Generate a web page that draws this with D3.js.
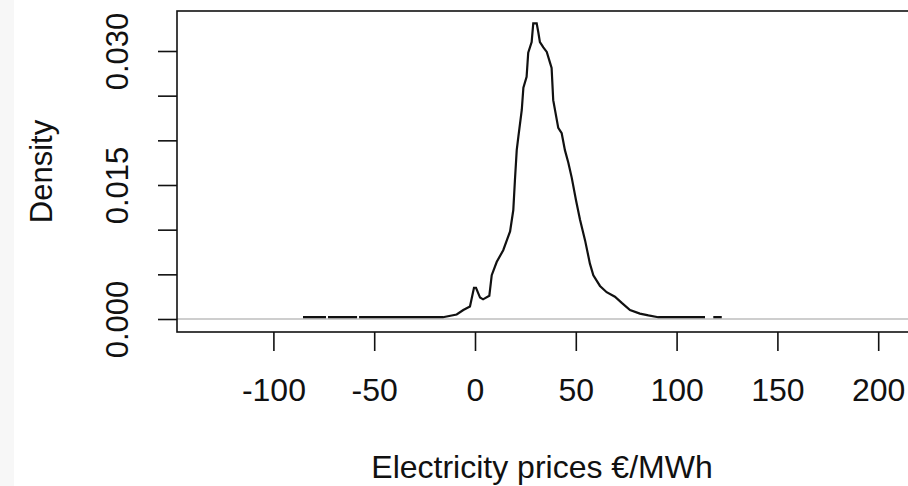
<!DOCTYPE html>
<html>
<head>
<meta charset="utf-8">
<script src="https://cdn.jsdelivr.net/npm/d3@7"></script>
<style>
  body { margin: 0; background: #fff; }
  svg { display: block; font-family: "Liberation Sans", Arial, sans-serif; }
</style>
</head>
<body>
<div id="chart"></div>
<script>
// density estimate (null = gap in the drawn line)
var price = [-85.3, -73.9, -73.4, -72.9, -58.5, -58.0, -57.5, -15.9, -9.1, -5.8, -2.5, -0.5, 0.5, 2.5, 4.0, 7.1,
  8.3, 10.8, 14.0, 17.4, 19.0, 19.8, 20.7, 21.5, 23.2, 24.0, 25.6, 26.4, 28.1, 28.9, 30.6, 31.4, 32.2,
  33.9, 35.6, 37.2, 38.0, 38.8, 41.3, 43.0, 44.6, 46.3, 48.0, 50.1, 52.1, 54.6, 57.0, 58.7, 62.0, 65.3,
  69.4, 72.8, 76.9, 81.8, 86.0, 90.9, 114.1, 116.0, 118.2, 122.4];
var density = [0.0002, 0.0002, null, 0.0002, 0.0002, null, 0.0002, 0.0002, 0.0005, 0.0010, 0.0014, 0.0035, 0.0035, 0.0024, 0.0022, 0.0026,
  0.0049, 0.0064, 0.0077, 0.0098, 0.0122, 0.0155, 0.0189, 0.0204, 0.0234, 0.0259, 0.0271, 0.0298, 0.0310, 0.0331, 0.0331, 0.0321, 0.0310,
  0.0304, 0.0299, 0.0287, 0.0281, 0.0245, 0.0214, 0.0208, 0.0189, 0.0175, 0.0158, 0.0133, 0.0111, 0.0088, 0.0062, 0.0049, 0.0037, 0.0030,
  0.0025, 0.0018, 0.0010, 0.0006, 0.0004, 0.0002, 0.0002, null, 0.0002, 0.0002];

var xTicks = [-100, -50, 0, 50, 100, 150, 200];
var xTickLabels = ["-100", "-50", "0", "50", "100", "150", "200"];
var yTicks = [0, 0.005, 0.010, 0.015, 0.020, 0.025, 0.030];
var yTickLabels = ["0.000", "", "", "0.015", "", "", "0.030"];
var xTitle = "Electricity prices \u20ac/MWh";
var yTitle = "Density";

var W = 908, H = 486;
var box = { left: 177, top: 11, right: 914, bottom: 332 };

var svg = d3.select("#chart").append("svg")
  .attr("width", W)
  .attr("height", H);

// grey strip down the left edge
svg.append("rect").attr("x", 0).attr("y", 0).attr("width", 14).attr("height", H).attr("fill", "#f7f7f7");

var x = d3.scaleLinear().domain([-100, 200]).range([273.4, 878.2]);
var y = d3.scaleLinear().domain([0, 0.030]).range([319, 51]);

var pts = price.map(function(p, i) { return { p: p, d: density[i] }; });

// zero line
svg.append("line")
  .attr("x1", box.left).attr("x2", box.right)
  .attr("y1", y(0)).attr("y2", y(0))
  .attr("stroke", "#bebebe").attr("stroke-width", 1.5);

var line = d3.line()
  .defined(function(d) { return d.d != null; })
  .x(function(d) { return x(d.p); })
  .y(function(d) { return y(d.d); });

svg.append("path")
  .datum(pts)
  .attr("d", line)
  .attr("fill", "none")
  .attr("stroke", "#111")
  .attr("stroke-width", 2.2)
  .attr("stroke-linejoin", "miter");

// box
svg.append("rect")
  .attr("x", box.left).attr("y", box.top)
  .attr("width", box.right - box.left).attr("height", box.bottom - box.top)
  .attr("fill", "none").attr("stroke", "#111").attr("stroke-width", 1.6);

// x axis
var gx = svg.append("g")
  .attr("transform", "translate(0," + box.bottom + ")")
  .call(d3.axisBottom(x).tickValues(xTicks).tickSize(19)
    .tickFormat(function(d, i) { return xTickLabels[i]; }));
gx.select(".domain").remove();
gx.selectAll(".tick line").attr("stroke", "#111").attr("stroke-width", 1.6);
gx.selectAll(".tick text")
  .attr("y", 69).attr("dy", null)
  .attr("font-size", 32).attr("fill", "#111")
  .attr("font-family", "Liberation Sans, Arial, sans-serif");

// y axis
var gy = svg.append("g")
  .attr("transform", "translate(" + box.left + ",0)")
  .call(d3.axisLeft(y).tickValues(yTicks).tickSize(19)
    .tickFormat(function(d, i) { return yTickLabels[i]; }));
gy.select(".domain").remove();
gy.selectAll(".tick line").attr("stroke", "#111").attr("stroke-width", 1.6);
gy.selectAll(".tick text")
  .attr("x", null).attr("dy", null)
  .attr("text-anchor", "middle")
  .attr("transform", "translate(-49,0) rotate(-90)")
  .attr("font-size", 31).attr("fill", "#111")
  .attr("font-family", "Liberation Sans, Arial, sans-serif");

// titles
svg.append("text")
  .attr("x", 542).attr("y", 478)
  .attr("text-anchor", "middle")
  .attr("font-size", 32).attr("fill", "#111")
  .text(xTitle);

svg.append("text")
  .attr("transform", "translate(52," + ((box.top + box.bottom) / 2) + ") rotate(-90)")
  .attr("text-anchor", "middle")
  .attr("font-size", 31).attr("fill", "#111")
  .text(yTitle);
</script>
</body>
</html>
